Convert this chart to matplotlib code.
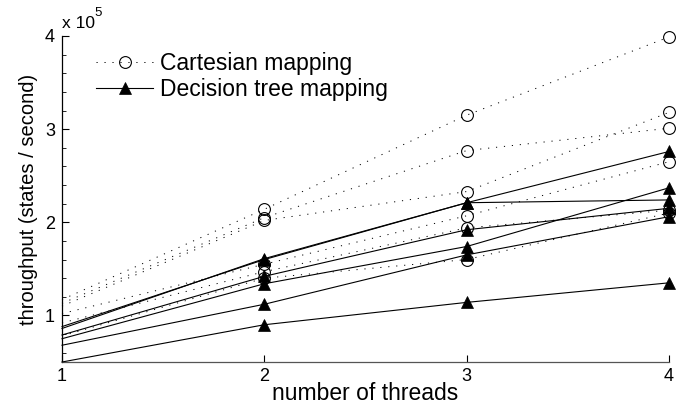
import matplotlib
matplotlib.use("Agg")
import matplotlib.pyplot as plt
from matplotlib.ticker import MultipleLocator
from matplotlib.lines import Line2D

plt.rcParams['font.family'] = ['Liberation Sans', 'DejaVu Sans']

threads = [1, 2, 3, 4]
# throughput in units of 1e5 states / second
cartesian = [
    [1.17, 2.14, 3.15, 3.99],
    [1.13, 2.05, 2.77, 3.01],
    [1.10, 2.02, 2.33, 3.18],
    [1.02, 1.55, 2.07, 2.65],
    [0.92, 1.47, 1.94, 2.13],
    [0.78, 1.40, 1.60, 2.10],
]
tree = [
    [0.88, 1.60, 2.21, 2.76],
    [0.86, 1.61, 2.21, 2.24],
    [0.79, 1.42, 1.92, 2.15],
    [0.75, 1.34, 1.74, 2.37],
    [0.68, 1.12, 1.65, 2.06],
    [0.50, 0.90, 1.14, 1.35],
]
xticks = [1, 2, 3, 4]
yticks = [1, 2, 3, 4]
labels = ["Cartesian mapping", "Decision tree mapping"]

W, H = 689, 407
fig = plt.figure(figsize=(W / 100, H / 100), dpi=100)
ax = fig.add_axes([62 / W, 1 - 362 / H, (669 - 62) / W, (362 - 36) / H])

dot_style = (0, (1.2, 7))
circ_kw = dict(marker='o', markersize=8.5, markerfacecolor='none',
               markeredgecolor='black', markeredgewidth=0.8)
tri_kw = dict(marker='^', markersize=9, markerfacecolor='black',
              markeredgecolor='black', markeredgewidth=0.5)
for s in cartesian:
    ax.plot(threads, s, color='black', lw=0.7, linestyle=dot_style,
            markevery=[1, 2, 3], clip_on=False, zorder=2, **circ_kw)
for s in tree:
    ax.plot(threads, s, color='black', lw=0.8, linestyle='-',
            markevery=[1, 2, 3], clip_on=False, zorder=3, **tri_kw)

ax.set_xlim(1, 4)
ax.set_ylim(0.5, 4)
ax.set_xticks(xticks)
ax.set_yticks(yticks)
ax.yaxis.set_minor_locator(MultipleLocator(0.2))
ax.tick_params(axis='both', which='major', direction='in', length=5,
               width=0.8, labelsize=13, color='black')
ax.tick_params(axis='y', which='minor', direction='in', length=3, width=0.6)
ax.tick_params(axis='x', pad=4)
ax.tick_params(axis='y', pad=5)
for side in ['top', 'right']:
    ax.spines[side].set_visible(False)
ax.spines['left'].set_linewidth(0.9)
ax.spines['bottom'].set_linewidth(0.9)
ax.spines['bottom'].set_color('#555555')

ax.set_xlabel("number of threads", fontsize=16.5)
ax.xaxis.set_label_coords(0.5, -0.062)
ax.set_ylabel("throughput (states / second)", fontsize=14.5, labelpad=5)

fig.text(62 / W, 1 - 23 / H, "x 10", fontsize=12.5, ha='left', va='center')
fig.text(94 / W, 1 - 13 / H, "5", fontsize=9.5, ha='left', va='center')

h1 = Line2D([], [], color='black', lw=0.7, linestyle=dot_style, **circ_kw)
h2 = Line2D([], [], color='black', lw=0.8, **tri_kw)
leg = ax.legend([h1, h2], labels, loc='upper left',
                bbox_to_anchor=(96 / W, 1 - 52 / H), bbox_transform=fig.transFigure,
                frameon=False, fontsize=16.5, handlelength=2.49, handletextpad=0.3,
                labelspacing=0.12, borderpad=0, borderaxespad=0)

fig.savefig("out.png", dpi=100)
